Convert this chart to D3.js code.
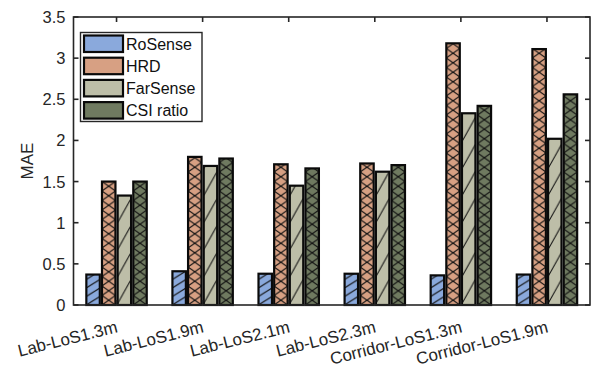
<!DOCTYPE html>
<html>
<head>
<meta charset="utf-8">
<script src="https://cdn.jsdelivr.net/npm/d3@7"></script>
<style>
  html, body { margin: 0; padding: 0; background: #fff; }
  svg { display: block; font-family: "Liberation Sans", Arial, sans-serif; }
</style>
</head>
<body>
<svg id="chart" width="591" height="368"></svg>
<script>
// Scenario categories along the x axis
const categories = ["Lab-LoS1.3m", "Lab-LoS1.9m", "Lab-LoS2.1m", "Lab-LoS2.3m", "Corridor-LoS1.3m", "Corridor-LoS1.9m"];
// Methods (one bar each per scenario)
const methods = ["RoSense", "HRD", "FarSense", "CSI ratio"];
// Mean absolute error for each method across the scenarios
const roSense  = [0.37, 0.41, 0.38, 0.38, 0.36, 0.37];
const hrd      = [1.50, 1.80, 1.71, 1.72, 3.18, 3.11];
const farSense = [1.33, 1.69, 1.45, 1.62, 2.33, 2.02];
const csiRatio = [1.50, 1.78, 1.66, 1.70, 2.42, 2.56];
const yTicks = [0, 0.5, 1, 1.5, 2, 2.5, 3, 3.5];
const yTickLabels = ["0", "0.5", "1", "1.5", "2", "2.5", "3", "3.5"];

const seriesValues = [roSense, hrd, farSense, csiRatio];
const fills = ["#8aa9dc", "#d7a083", "#bdbea8", "#6f7a60"];
const hatchKinds = ["slash", "cross", "steep", "cross"];
const axisColor = "#262626";

const svg = d3.select("#chart");
const plot = { left: 73.5, right: 590, top: 17, bottom: 305 };

const x = d3.scaleBand().domain(categories).range([plot.left, plot.right]).padding(0);
const groupW = x.bandwidth() * 0.727;
const xInner = d3.scaleBand().domain(methods).range([-groupW / 2, groupW / 2]).paddingInner(0.14).paddingOuter(0.07);
const y = d3.scaleLinear().domain([0, 3.5]).range([plot.bottom, plot.top]);

const defs = svg.append("defs");

// Flattened bar records
const bars = [];
categories.forEach((c, i) => {
  methods.forEach((m, j) => {
    bars.push({ cat: c, method: m, j, value: seriesValues[j][i], id: `h-${i}-${j}` });
  });
});

// Per-bar hatch pattern, anchored at the bar's base
bars.forEach(b => {
  const bx = x(b.cat) + x.bandwidth() / 2 + xInner(b.method);
  const bw = xInner.bandwidth();
  const kind = hatchKinds[b.j];
  const ph = kind === "cross" ? 9.5 : kind === "slash" ? 8.5 : 27;
  const p = defs.append("pattern")
    .attr("id", b.id)
    .attr("patternUnits", "userSpaceOnUse")
    .attr("x", bx).attr("y", y(0))
    .attr("width", bw).attr("height", ph);
  p.append("rect").attr("width", bw).attr("height", ph).attr("fill", fills[b.j]);
  const ln = (x1, y1, x2, y2) => p.append("line")
    .attr("x1", x1).attr("y1", y1).attr("x2", x2).attr("y2", y2)
    .attr("stroke", "#111").attr("stroke-width", 1.1);
  if (kind === "cross") {
    ln(0, 0, bw, ph); ln(bw, 0, 0, ph);
  } else if (kind === "slash") {
    ln(0, ph, bw, 0);
  } else {
    ln(0, ph - 1.5, bw, 1.5);
  }
});

// Bars
svg.append("g").selectAll("rect").data(bars).join("rect")
  .attr("x", b => x(b.cat) + x.bandwidth() / 2 + xInner(b.method))
  .attr("y", b => y(b.value))
  .attr("width", xInner.bandwidth())
  .attr("height", b => y(0) - y(b.value))
  .attr("fill", b => `url(#${b.id})`)
  .attr("stroke", "#0a0a0a")
  .attr("stroke-width", 2.2);

// Axes box
const ax = svg.append("g").attr("stroke", axisColor).attr("fill", "none");
ax.append("rect")
  .attr("x", plot.left).attr("y", plot.top)
  .attr("width", plot.right - plot.left).attr("height", plot.bottom - plot.top)
  .attr("stroke-width", 1.6);

// Y ticks (left and right, inward)
yTicks.forEach(t => {
  ax.append("line").attr("x1", plot.left).attr("x2", plot.left + 5).attr("y1", y(t)).attr("y2", y(t)).attr("stroke-width", 1.6);
  ax.append("line").attr("x1", plot.right).attr("x2", plot.right - 5).attr("y1", y(t)).attr("y2", y(t)).attr("stroke-width", 1.6);
});
// X ticks (top and bottom, inward)
categories.forEach(c => {
  const cx = x(c) + x.bandwidth() / 2;
  ax.append("line").attr("x1", cx).attr("x2", cx).attr("y1", plot.top).attr("y2", plot.top + 5).attr("stroke-width", 1.6);
  ax.append("line").attr("x1", cx).attr("x2", cx).attr("y1", plot.bottom).attr("y2", plot.bottom - 5).attr("stroke-width", 1.6);
});

// Y tick labels
svg.append("g").selectAll("text").data(yTicks).join("text")
  .attr("x", plot.left - 8)
  .attr("y", d => y(d))
  .attr("dy", "0.36em")
  .attr("text-anchor", "end")
  .attr("font-size", 16.5)
  .attr("fill", axisColor)
  .text((d, i) => yTickLabels[i]);

// X tick labels, rotated
svg.append("g").selectAll("text").data(categories).join("text")
  .attr("transform", c => `translate(${x(c) + x.bandwidth() / 2 + 2},332) rotate(-14)`)
  .attr("text-anchor", "end")
  .attr("font-size", 17)
  .attr("fill", axisColor)
  .text(c => c);

// Y axis title
svg.append("text")
  .attr("transform", `translate(33,161) rotate(-90)`)
  .attr("text-anchor", "middle")
  .attr("font-size", 17)
  .attr("fill", axisColor)
  .text("MAE");

// Legend
const lg = svg.append("g");
lg.append("rect").attr("x", 80.5).attr("y", 32.5).attr("width", 121.5).attr("height", 89)
  .attr("fill", "#fff").attr("stroke", axisColor).attr("stroke-width", 1.4);
methods.forEach((m, j) => {
  const ly = 35.5 + j * 22.2;
  lg.append("rect").attr("x", 84).attr("y", ly).attr("width", 39).attr("height", 16.5)
    .attr("fill", fills[j]).attr("stroke", "#0a0a0a").attr("stroke-width", 2.2);
  lg.append("text").attr("x", 126).attr("y", ly + 8.25).attr("dy", "0.36em")
    .attr("font-size", 16).attr("fill", "#111").text(m);
});
</script>
</body>
</html>
